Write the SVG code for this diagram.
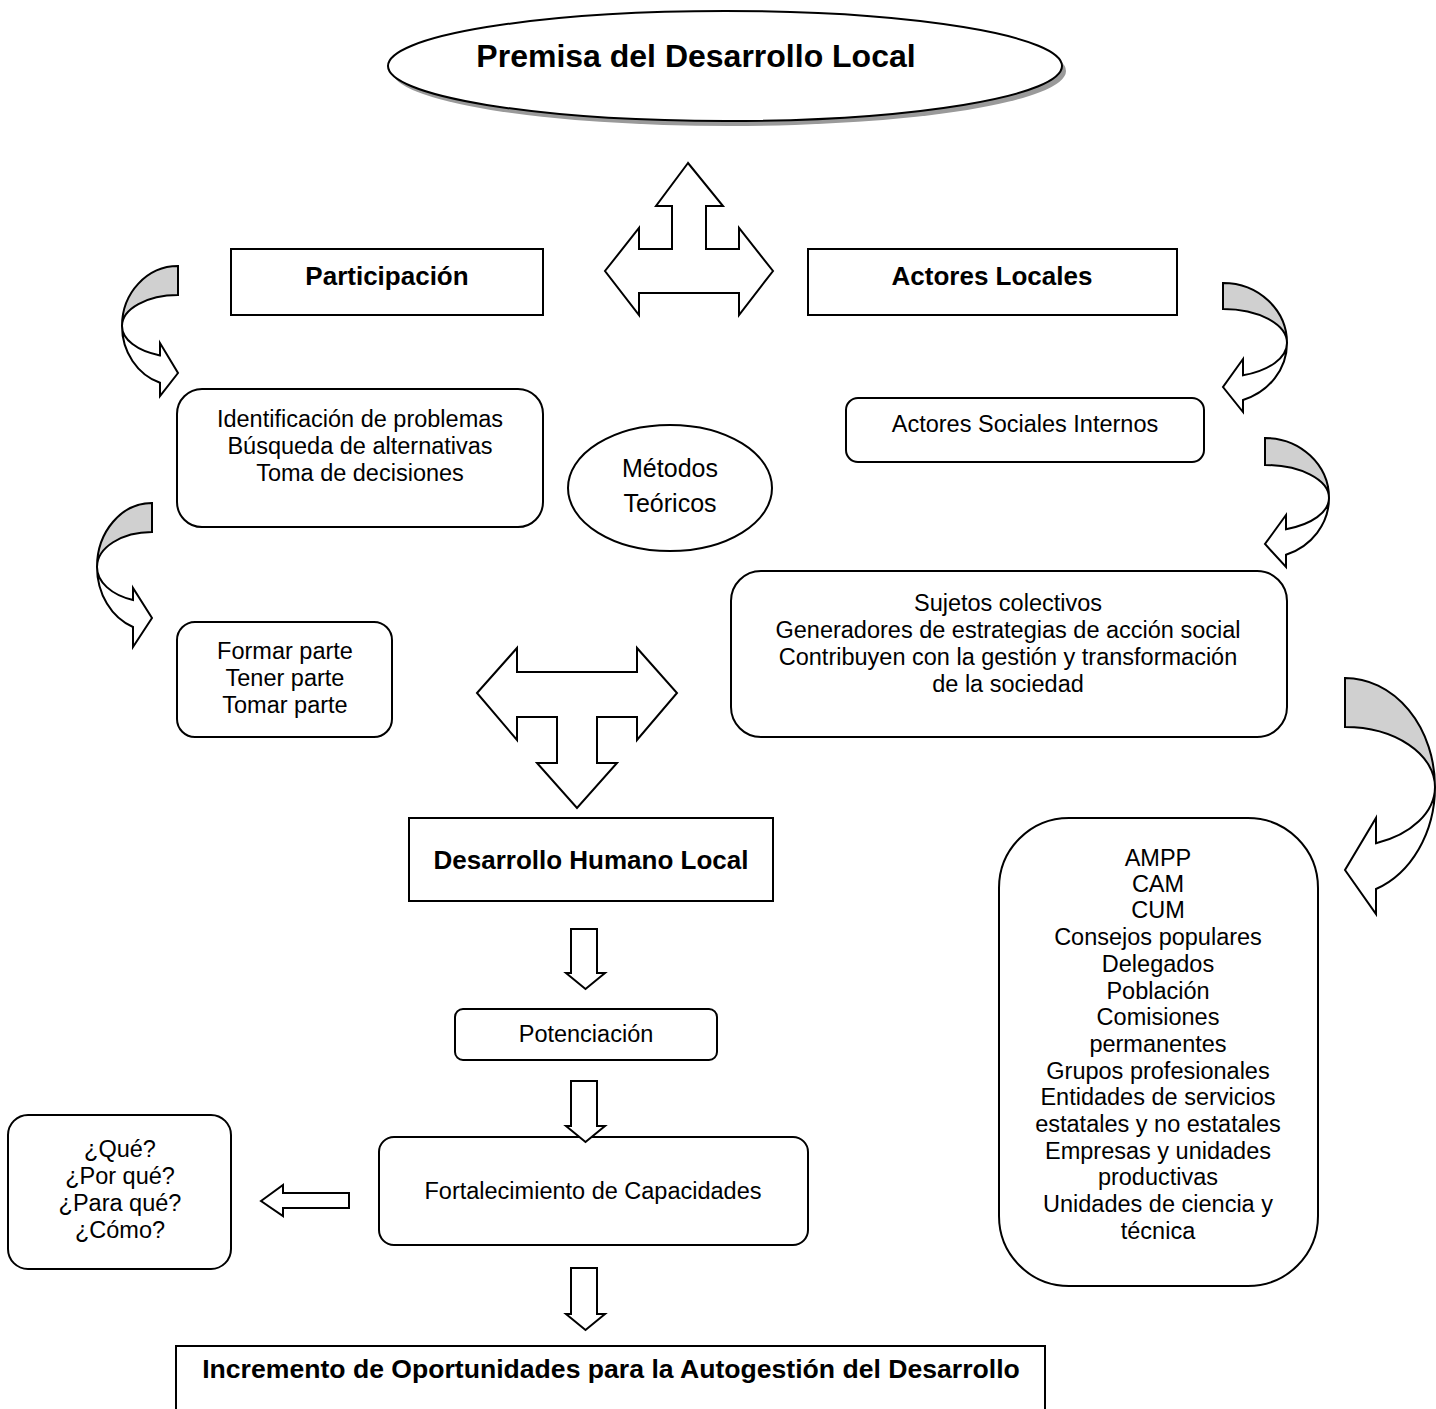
<svg xmlns="http://www.w3.org/2000/svg" width="1436" height="1409" viewBox="0 0 1436 1409">
<style>
  .box { fill: #fff; stroke: #000; stroke-width: 2; }
  .arr { fill: #fff; stroke: #000; stroke-width: 2; stroke-linejoin: miter; }
  .back { fill: #d0d0d0; stroke: #000; stroke-width: 2; }
  .t { font-family: "Liberation Sans", Arial, sans-serif; font-size: 23.5px; fill: #000; text-anchor: middle; }
  .b { font-family: "Liberation Sans", Arial, sans-serif; font-size: 26px; font-weight: bold; fill: #000; text-anchor: middle; }
</style>
<rect width="1436" height="1409" fill="#fff"/>

<g id="premisa">
  <ellipse cx="729" cy="71" rx="337" ry="55" fill="#9a9a9a"/>
  <ellipse cx="725" cy="66" rx="337" ry="55" class="box"/>
  <text x="696" y="67" class="b" style="font-size:32px">Premisa del Desarrollo Local</text>
</g>

<g id="participacion">
  <rect x="231" y="249" width="312" height="66" class="box"/>
  <text x="387" y="285" class="b">Participación</text>
</g>

<g id="actores-locales">
  <rect x="808" y="249" width="369" height="66" class="box"/>
  <text x="992" y="285" class="b">Actores Locales</text>
</g>

<g id="identificacion">
  <rect x="177" y="389" width="366" height="138" rx="25" class="box"/>
  <text class="t"><tspan x="360" y="427">Identificación de problemas</tspan><tspan x="360" y="454">Búsqueda de alternativas</tspan><tspan x="360" y="481">Toma de decisiones</tspan></text>
</g>

<g id="metodos">
  <ellipse cx="670" cy="488" rx="102" ry="63" class="box"/>
  <text class="t" style="font-size:25px"><tspan x="670" y="477">Métodos</tspan><tspan x="670" y="512">Teóricos</tspan></text>
</g>

<g id="actores-sociales">
  <rect x="846" y="398" width="358" height="64" rx="12" class="box"/>
  <text x="1025" y="432" class="t">Actores Sociales Internos</text>
</g>

<g id="sujetos">
  <rect x="731" y="571" width="556" height="166" rx="30" class="box"/>
  <text class="t"><tspan x="1008" y="611">Sujetos colectivos</tspan><tspan x="1008" y="638">Generadores de estrategias de acción social</tspan><tspan x="1008" y="665">Contribuyen con la gestión y transformación</tspan><tspan x="1008" y="692">de la sociedad</tspan></text>
</g>

<g id="formar">
  <rect x="177" y="622" width="215" height="115" rx="18" class="box"/>
  <text class="t"><tspan x="285" y="659">Formar parte</tspan><tspan x="285" y="686">Tener parte</tspan><tspan x="285" y="713">Tomar parte</tspan></text>
</g>

<g id="desarrollo-humano">
  <rect x="409" y="818" width="364" height="83" class="box"/>
  <text x="591" y="869" class="b">Desarrollo Humano Local</text>
</g>

<g id="potenciacion">
  <rect x="455" y="1009" width="262" height="51" rx="8" class="box"/>
  <text x="586" y="1042" class="t">Potenciación</text>
</g>

<g id="fortalecimiento">
  <rect x="379" y="1137" width="429" height="108" rx="15" class="box"/>
  <text x="593" y="1199" class="t">Fortalecimiento de Capacidades</text>
</g>

<g id="preguntas">
  <rect x="8" y="1115" width="223" height="154" rx="20" class="box"/>
  <text class="t"><tspan x="120" y="1157">¿Qué?</tspan><tspan x="120" y="1184">¿Por qué?</tspan><tspan x="120" y="1211">¿Para qué?</tspan><tspan x="120" y="1238">¿Cómo?</tspan></text>
</g>

<g id="incremento">
  <rect x="176" y="1346" width="869" height="80" class="box"/>
  <text x="611" y="1378" class="b" style="font-size:26.6px">Incremento de Oportunidades para la Autogestión del Desarrollo</text>
</g>

<g id="actores-lista">
  <rect x="999" y="818" width="319" height="468" rx="70" class="box"/>
  <text class="t"><tspan x="1158" y="866">AMPP</tspan><tspan x="1158" y="892">CAM</tspan><tspan x="1158" y="918">CUM</tspan><tspan x="1158" y="945">Consejos populares</tspan><tspan x="1158" y="972">Delegados</tspan><tspan x="1158" y="999">Población</tspan><tspan x="1158" y="1025">Comisiones</tspan><tspan x="1158" y="1052">permanentes</tspan><tspan x="1158" y="1079">Grupos profesionales</tspan><tspan x="1158" y="1105">Entidades de servicios</tspan><tspan x="1158" y="1132">estatales y no estatales</tspan><tspan x="1158" y="1159">Empresas y unidades</tspan><tspan x="1158" y="1185">productivas</tspan><tspan x="1158" y="1212">Unidades de ciencia y</tspan><tspan x="1158" y="1239">técnica</tspan></text>
</g>

<g id="connectors">
  <polygon class="arr" points="688,163 656,206 672,206 672,249 639,249 639,228 605,271 639,315 639,293 739,293 739,315 773,271 739,228 739,249 706,249 706,206 723,206"/>
  <polygon class="arr" points="477,693 517,648 517,672 637,672 637,648 677,693 637,740 637,717 597,717 597,763 617,763 577,808 537,763 557,763 557,717 517,717 517,740"/>
  <polygon class="arr" points="571,929 597,929 597,973 605,973 585.5,989 566,973 571,973"/>
  <polygon class="arr" points="571,1081 597,1081 597,1126 605,1126 585.5,1142 566,1126 571,1126"/>
  <polygon class="arr" points="571,1268 597,1268 597,1314 605,1314 585.5,1330 566,1314 571,1314"/>
  <polygon class="arr" points="261,1201 283,1185 283,1193 349,1193 349,1208 283,1208 283,1216"/>

  <path class="back" d="M178,266 A56,60 0 0 0 122,326 A56,31 0 0 1 178,295 Z"/>
  <path class="arr" d="M122,326 A56,60 0 0 0 160,382.8 L160,396 L178,373 L160,343 L160,355.4 A56,31 0 0 1 122,326 Z"/>
  <path class="back" d="M152,503 A55,64 0 0 0 97,567 A55,35 0 0 1 152,532 Z"/>
  <path class="arr" d="M97,567 A55,64 0 0 0 133,627 L133,647 L152,618 L133,588 L133,600 A55,35 0 0 1 97,567 Z"/>
  <path class="back" d="M1223,283 A64,60 0 0 1 1287,343 A64,34 0 0 0 1223,309 Z"/>
  <path class="arr" d="M1287,343 A64,60 0 0 1 1243,400 L1243,412 L1223,387 L1243,359 L1243,375.3 A64,34 0 0 0 1287,343 Z"/>
  <path class="back" d="M1265,438 A64,60 0 0 1 1329,498 A64,33 0 0 0 1265,465 Z"/>
  <path class="arr" d="M1329,498 A64,60 0 0 1 1286,554.7 L1286,567 L1265,544 L1286,515 L1286,529.2 A64,33 0 0 0 1329,498 Z"/>
  <path class="back" d="M1345,678 A90,109 0 0 1 1435,787 A90,60 0 0 0 1345,727 Z"/>
  <path class="arr" d="M1435,787 A90,109 0 0 1 1376,889 L1376,914 L1345,870 L1376,818 L1376,843.3 A90,60 0 0 0 1435,787 Z"/>
</g>
</svg>
